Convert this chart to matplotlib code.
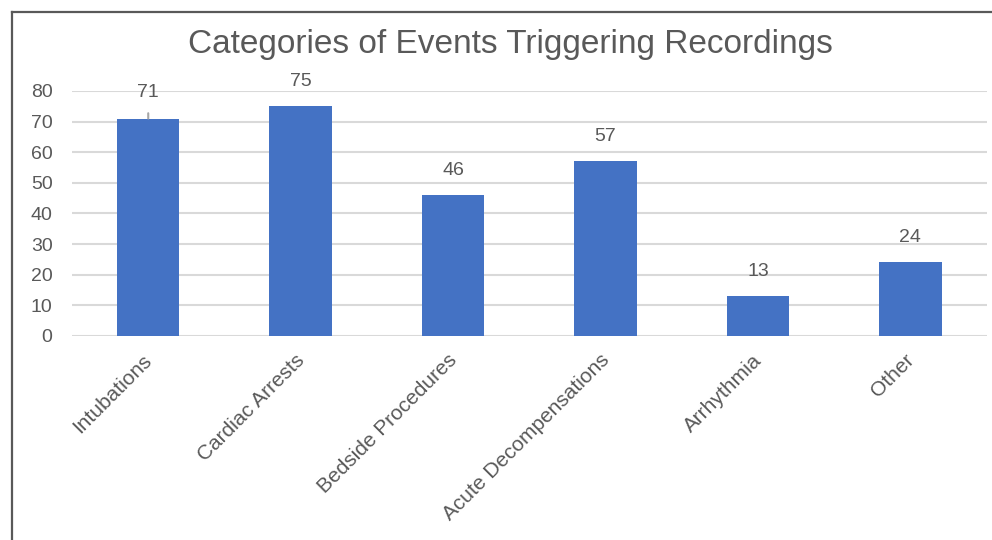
import matplotlib
matplotlib.use("Agg")
import matplotlib.pyplot as plt
from matplotlib.lines import Line2D
from matplotlib.transforms import ScaledTranslation

categories = ["Intubations", "Cardiac Arrests", "Bedside Procedures",
              "Acute Decompensations", "Arrhythmia", "Other"]
counts = [71, 75, 46, 57, 13, 24]
y_ticks = [0, 10, 20, 30, 40, 50, 60, 70, 80]
title = "Categories of Events Triggering Recordings"

plt.rcParams["font.family"] = ["Liberation Sans", "DejaVu Sans"]
text_color = "#595959"
bar_color = "#4472C4"
grid_color = "#D9D9D9"

fig = plt.figure(figsize=(9.92, 5.40), dpi=100)
fig.patch.set_facecolor("white")
ax = fig.add_axes([0.0726, 0.378, 0.922, 0.4535])

x = list(range(len(categories)))
ax.bar(x, counts, width=0.41, color=bar_color, zorder=3)

ax.set_xlim(-0.5, len(categories) - 0.5)
ax.set_ylim(0, 80)
ax.set_yticks(y_ticks)
ax.set_yticklabels([str(t) for t in y_ticks], fontsize=14, color=text_color)
ax.tick_params(axis="y", length=0, pad=14)
ax.tick_params(axis="x", length=0)
ax.yaxis.grid(True, color=grid_color, linewidth=1.5, zorder=0)
ax.set_axisbelow(True)
for s in ax.spines.values():
    s.set_visible(False)

ax.set_xticks(x)
ax.set_xticklabels(categories, rotation=45, ha="right", rotation_mode="anchor",
                   fontsize=15, color=text_color)
shift = ScaledTranslation(-6 / 100, -10 / 100, fig.dpi_scale_trans)
for lbl in ax.get_xticklabels():
    lbl.set_transform(lbl.get_transform() + shift)

# value labels; the first one sits higher with a leader line
for xi, v in zip(x, counts):
    if v == 71:
        ax.annotate(str(v), xy=(xi, v), xytext=(xi, v + 8.6),
                    ha="center", va="center", fontsize=14, color=text_color,
                    annotation_clip=False,
                    arrowprops=dict(arrowstyle="-", color="#A6A6A6", lw=1.5,
                                    shrinkA=7, shrinkB=0))
    else:
        ax.annotate(str(v), xy=(xi, v), xytext=(0, 18), textcoords="offset points",
                    ha="center", va="center", fontsize=14, color=text_color,
                    annotation_clip=False)

fig.text(0.515, 0.917, title, ha="center", va="center", fontsize=24, color=text_color)

# chart frame (left and top edges)
fig.add_artist(Line2D([12 / 992, 12 / 992], [0, 1 - 12 / 540],
                      transform=fig.transFigure, color="#595959", lw=1.6))
fig.add_artist(Line2D([12 / 992, 1], [1 - 12 / 540, 1 - 12 / 540],
                      transform=fig.transFigure, color="#595959", lw=1.6))

fig.savefig("out.png", dpi=100, facecolor="white")
